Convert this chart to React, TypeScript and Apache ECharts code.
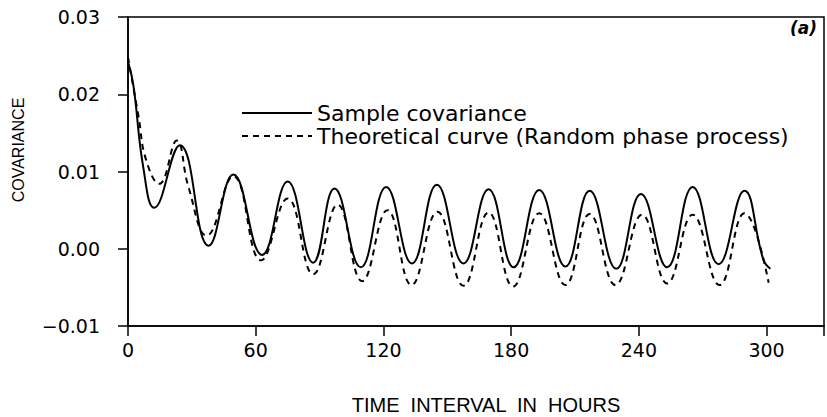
import React, { useEffect, useRef } from "react";
import * as echarts from "echarts";

// Sample covariance (solid) – hours and values
const sampleHours = [0, 2.5, 7.2, 12.3, 24.4, 37.9, 49.5, 63, 75, 87, 97, 109.4, 121.3, 133.4, 145.1, 157.6, 169.4, 181.2, 193.2, 205.5, 216.9, 229.4, 241, 253.3, 265.3, 277.5, 289.6, 298.5, 301.8];
const sampleCov = [0.0242, 0.0212, 0.0105, 0.0053, 0.0134, 0.0004, 0.0096, -0.0008, 0.0087, -0.0018, 0.0078, -0.0024, 0.008, -0.0019, 0.0083, -0.0019, 0.0077, -0.0024, 0.0076, -0.0023, 0.0075, -0.0026, 0.0071, -0.0024, 0.008, -0.002, 0.0075, -0.0014, -0.0026];

// Theoretical curve (dashed)
const theoryHours = [0, 4.9, 8.5, 14.7, 22.9, 28.4, 37, 49.5, 62.5, 75, 87, 98.5, 110, 121.9, 133.2, 145.4, 157.6, 169.4, 180.9, 193.2, 205.5, 216.9, 229, 241.5, 253.3, 265.3, 277.9, 289.6, 301];
const theoryCov = [0.0248, 0.0172, 0.0115, 0.0084, 0.014, 0.008, 0.0017, 0.0094, -0.0015, 0.0065, -0.0033, 0.0057, -0.0042, 0.005, -0.0047, 0.0048, -0.0048, 0.0047, -0.0049, 0.0046, -0.0047, 0.0045, -0.0047, 0.0044, -0.0045, 0.0044, -0.0047, 0.0046, -0.0044];

const xTickLabels = [0, 60, 120, 180, 240, 300];
const yTickLabels = [-0.01, 0.0, 0.01, 0.02, 0.03];

const seriesNames = ["Sample covariance", "Theoretical curve (Random phase process)"];

export default function App() {
  const ref = useRef<HTMLDivElement>(null);
  useEffect(() => {
    if (!ref.current) return;
    const chart = echarts.init(ref.current, null, { renderer: "svg" });
    const font = "DejaVu Sans";
    chart.setOption({
      animation: false,
      backgroundColor: "#fff",
      grid: {
        left: 128,
        right: 3,
        top: 17,
        bottom: 91,
        show: true,
        borderColor: "#000",
        borderWidth: 1.5,
      },
      legend: {
        show: true,
        selectedMode: false,
        orient: "vertical",
        left: 236,
        top: 97,
        itemWidth: 70,
        itemHeight: 14,
        itemGap: 1,
        itemStyle: { color: "transparent", borderWidth: 0, opacity: 0 },
        textStyle: { fontFamily: font, fontSize: 22, color: "#000", lineHeight: 21 },
        data: seriesNames,
      },
      xAxis: {
        type: "value",
        min: 0,
        max: 327,
        interval: 60,
        axisLine: { show: true, onZero: false, lineStyle: { color: "#000", width: 1.5 } },
        axisTick: { show: true, length: 10, lineStyle: { color: "#000", width: 1.5 } },
        splitLine: { show: false },
        axisLabel: {
          margin: 14,
          fontFamily: font,
          fontSize: 19,
          color: "#000",
          formatter: (v: number) => (xTickLabels.indexOf(v) >= 0 ? String(v) : ""),
        },
      },
      yAxis: {
        type: "value",
        min: -0.01,
        max: 0.03,
        interval: 0.01,
        axisLine: { show: true, onZero: false, lineStyle: { color: "#000", width: 1.5 } },
        axisTick: { show: true, length: 10, lineStyle: { color: "#000", width: 1.5 } },
        splitLine: { show: false },
        axisLabel: {
          margin: 28,
          fontFamily: font,
          fontSize: 19,
          color: "#000",
          formatter: (v: number) => {
            const m = yTickLabels.find((t) => Math.abs(t - v) < 1e-9);
            if (m === undefined) return "";
            return m < 0 ? "\u2212" + Math.abs(m).toFixed(2) : m.toFixed(2);
          },
        },
      },
      graphic: [
        {
          type: "text",
          x: 18,
          y: 150,
          rotation: Math.PI / 2,
          style: {
            text: "COVARIANCE",
            fontFamily: "Liberation Sans",
            fontSize: 16,
            fill: "#000",
            align: "center",
            verticalAlign: "middle",
          },
        },
        {
          type: "text",
          x: 486,
          y: 405,
          style: {
            text: "TIME  INTERVAL  IN  HOURS",
            fontFamily: "Liberation Sans",
            fontSize: 20,
            fill: "#000",
            align: "center",
            verticalAlign: "middle",
          },
        },
        {
          type: "text",
          x: 817,
          y: 28,
          style: {
            text: "(a)",
            fontFamily: font,
            fontSize: 17,
            fontWeight: "bold",
            fontStyle: "italic",
            fill: "#000",
            align: "right",
            verticalAlign: "middle",
          },
        },
      ],
      series: [
        {
          name: seriesNames[0],
          type: "line",
          data: sampleHours.map((h, i) => [h, sampleCov[i]]),
          symbol: "none",
          smooth: 0.45,
          lineStyle: { color: "#000", width: 2, type: "solid" },
          itemStyle: { color: "#000" },
        },
        {
          name: seriesNames[1],
          type: "line",
          data: theoryHours.map((h, i) => [h, theoryCov[i]]),
          symbol: "none",
          smooth: 0.45,
          lineStyle: { color: "#000", width: 2, type: [6, 5] },
          itemStyle: { color: "#000" },
        },
      ],
    });
    return () => chart.dispose();
  }, []);
  return (
    <div
      ref={ref}
      style={{ position: "absolute", left: 0, top: 0, width: 827, height: 417 }}
    />
  );
}
